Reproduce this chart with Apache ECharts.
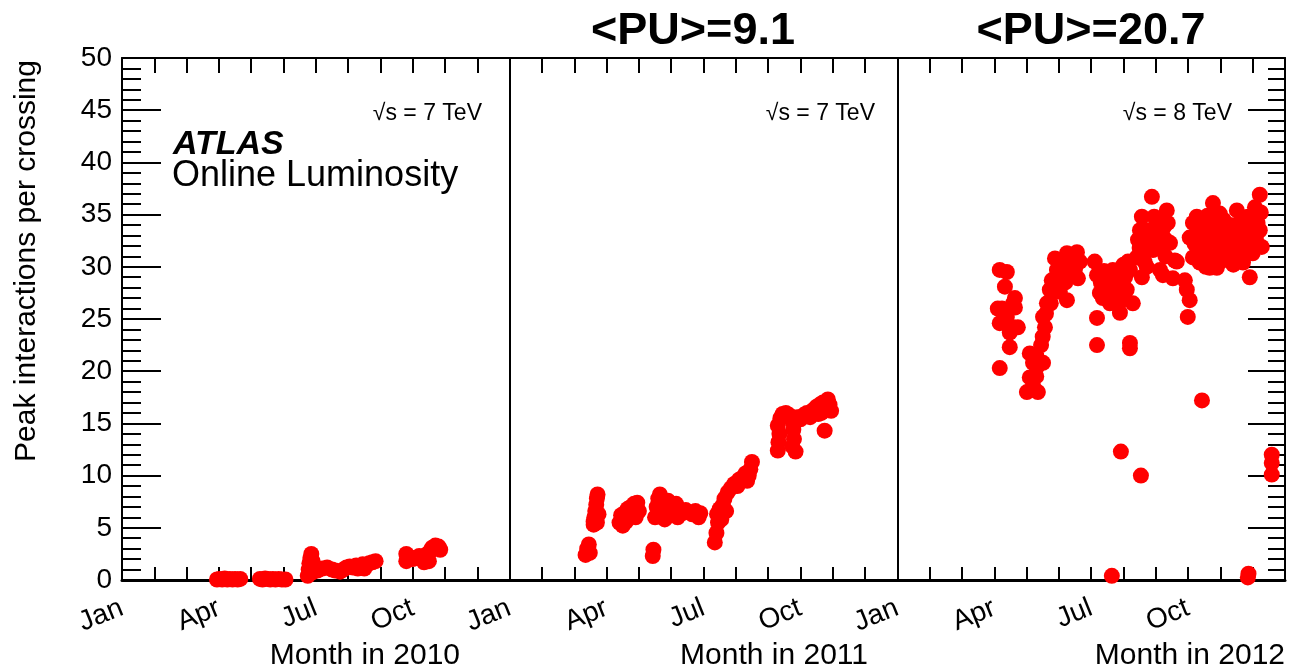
<!DOCTYPE html>
<html>
<head>
<meta charset="utf-8">
<script src="https://cdn.jsdelivr.net/npm/echarts@6/dist/echarts.min.js"></script>
<style>
html,body{margin:0;padding:0;background:#fff;}
#chart{width:1291px;height:672px;}
</style>
</head>
<body>
<div id="chart"></div>
<script>
// x = months since Jan 2010 (0..36), y = peak interactions per crossing
const monthNames = ['Jan', 'Apr', 'Jul', 'Oct'];
const yearTitles = ['Month in 2010', 'Month in 2011', 'Month in 2012'];
const energyLabels = ['7 TeV', '7 TeV', '8 TeV'];
const puLabels = ['<PU>=9.1', '<PU>=20.7'];
const yTicks = [0, 5, 10, 15, 20, 25, 30, 35, 40, 45, 50];

const d2010 = [
  [2.94,0.05],[3.02,0.1],[3.1,0.05],[3.18,0.15],[3.26,0.05],[3.34,0.1],[3.42,0.05],[3.5,0.1],[3.58,0.05],[3.66,0.1],
  [4.27,0.1],[4.35,0.05],[4.43,0.15],[4.51,0.1],[4.59,0.05],[4.67,0.1],[4.75,0.05],[4.85,0.1],[4.95,0.05],[5.06,0.05],
  [5.75,0.4],[5.78,1.0],[5.8,1.6],[5.83,2.1],[5.86,2.5],[5.9,1.8],[5.92,1.2],[5.88,0.7],
  [6.05,0.9],[6.2,1.1],[6.35,1.2],[6.5,1.0],[6.6,0.9],[6.75,0.8],[6.85,1.0],[6.95,1.2],[7.05,1.3],[7.15,1.2],
  [7.25,1.4],[7.35,1.3],[7.45,1.5],[7.55,1.4],[7.65,1.6],[7.75,1.7],[7.85,1.8],[7.3,1.1],[7.5,1.1],
  [8.8,1.8],[8.8,2.5],[8.9,2.2],[9.0,2.0],[9.1,2.1],[9.2,2.3],[9.3,2.0],[9.35,1.7],[9.45,2.5],[9.55,2.8],
  [9.6,3.1],[9.7,3.3],[9.8,3.2],[9.85,2.9],[9.5,1.8]
];

const d2011 = [
  [14.35,2.4],[14.4,3.0],[14.45,3.4],[14.48,2.6],[14.6,5.3],[14.62,6.0],[14.65,6.6],[14.68,7.2],[14.7,7.8],[14.72,8.2],[14.75,6.3],[14.6,5.6],[14.7,5.5],
  [15.4,5.5],[15.45,6.2],[15.5,5.2],[15.55,6.4],[15.6,5.6],[15.65,6.8],[15.7,6.0],[15.75,7.0],[15.8,6.5],[15.85,7.3],[15.9,6.8],[15.95,7.4],[16.0,6.6],[15.9,6.0],
  [16.43,2.3],[16.45,2.9],
  [16.5,6.0],[16.55,7.0],[16.6,7.8],[16.65,8.2],[16.7,7.5],[16.75,6.5],[16.8,5.8],[16.85,7.0],[16.9,7.6],[17.0,7.2],[17.1,6.5],[17.15,7.3],
  [17.25,6.8],[17.35,6.4],[17.45,6.7],[17.55,6.5],[17.65,6.3],[17.75,6.6],[17.85,6.0],[17.9,6.4],[17.2,6.0],[16.95,6.2],
  [18.35,3.6],[18.4,4.5],[18.45,5.5],[18.42,6.3],[18.5,6.8],[18.55,5.8],[18.6,7.2],[18.65,7.8],[18.7,6.6],[18.75,8.4],
  [18.85,8.8],[18.95,9.2],[19.05,9.0],[19.1,9.6],[19.2,9.8],[19.3,10.2],[19.35,9.5],[19.45,10.6],[19.5,11.3],[19.4,10.0],
  [20.3,12.4],[20.32,13.2],[20.35,14.0],[20.3,14.8],[20.38,15.5],[20.45,15.9],[20.55,16.0],[20.65,15.8],[20.75,15.2],[20.78,14.4],
  [20.8,13.5],[20.75,12.8],[20.85,12.3],[20.9,15.6],[21.0,15.4],[21.1,15.8],[21.2,16.0],[21.3,15.6],[21.4,16.3],[21.5,16.6],
  [21.55,15.9],[21.6,16.8],[21.7,17.0],[21.75,14.3],[21.8,16.5],[21.85,17.3],[21.9,16.8],[21.95,16.2],[21.65,16.0]
];

const d2012 = [
  [27.17,29.7],[27.39,29.5],[27.33,28.1],[27.64,27.0],[27.58,26.5],[27.11,26.0],[27.24,26.0],[27.39,25.2],[27.17,24.6],[27.58,24.2],
  [27.73,24.2],[27.48,23.7],[27.48,22.3],[27.17,20.3],[27.64,26.1],
  [28.01,18.0],[28.35,18.0],[28.2,18.6],[28.1,19.4],[28.3,19.5],[28.32,20.4],[28.51,20.8],[28.2,20.8],[28.3,21.5],[28.1,21.7],
  [28.45,22.5],[28.5,23.3],[28.57,24.2],[28.51,25.2],[28.6,25.5],[28.63,26.5],[28.75,26.5],[28.72,27.8],[28.78,28.7],[28.85,28.5],
  [28.94,29.7],[29.0,29.0],[28.88,30.8],[29.1,30.5],[29.15,29.8],[29.25,31.3],[29.35,30.8],[29.45,31.0],[29.56,31.4],[29.65,30.5],
  [29.4,30.0],[29.59,28.9],[29.2,28.5],[29.03,27.6],[29.25,26.8],[29.3,29.5],[29.5,29.8],[28.95,28.2],
  [30.11,30.5],[30.18,29.2],[30.67,29.7],[30.27,27.5],[30.36,27.0],[30.58,26.5],[30.89,25.6],[31.1,27.8],[31.29,26.5],[30.98,28.7],
  [31.2,29.7],[31.14,30.5],[30.18,25.1],[30.18,22.5],[31.2,22.2],[31.2,22.7],[30.3,28.5],[30.45,27.8],[30.5,28.8],[30.75,27.5],
  [30.8,28.2],[30.95,26.8],[31.05,29.0],[30.6,29.0],[30.4,29.6],[30.85,29.3],[31.0,30.2],
  [31.51,33.5],[31.57,34.8],[31.88,36.7],[31.72,31.9],[31.41,30.9],[31.72,30.0],[31.57,29.0],[32.03,34.2],[32.22,32.9],[32.34,35.4],
  [32.37,34.2],[32.13,29.7],[32.22,29.2],[32.53,28.9],[32.65,30.5],[32.59,30.6],[32.9,28.7],[32.96,27.8],[33.05,26.8],[32.99,25.2],
  [31.91,31.6],[32.13,31.9],[32.44,32.3],[31.6,32.5],[31.75,33.5],[31.85,33.0],[31.95,34.8],[32.05,32.0],[32.25,33.8],[31.5,31.8],
  [31.65,30.5],[32.3,31.0],[31.8,32.2],[32.0,33.2],[32.15,34.5],[32.3,32.6],[31.45,32.6],
  [33.15,34.2],[33.27,34.8],[33.05,32.8],[33.15,30.9],[33.36,30.4],[33.67,29.9],[33.89,29.9],[33.77,36.1],[33.98,35.1],[34.08,33.5],
  [34.2,31.9],[34.51,35.4],[34.6,34.2],[34.7,30.4],[34.91,29.0],[35.07,35.7],[35.22,36.9],[35.22,33.5],[35.28,31.9],[35.0,31.3],
  [33.58,32.6],[33.77,33.2],[34.39,32.6],[33.52,31.6],[34.29,30.9],[33.98,31.9],[33.3,33.3],[33.4,32.0],[33.45,34.0],[33.6,34.9],
  [33.7,31.0],[33.85,32.5],[34.0,30.5],[34.1,34.5],[34.3,34.0],[34.45,33.2],[34.55,31.5],[34.7,32.8],[34.8,33.8],[34.9,32.0],
  [35.1,32.6],[35.15,34.2],[33.3,30.8],[34.4,30.2],[33.55,30.0],[33.2,32.2],[33.5,33.0],[33.9,34.2],[34.15,32.8],[34.35,31.5],
  [34.6,33.4],[34.85,34.8],[35.0,33.0],[35.25,35.2],[33.65,33.8],
  [33.43,17.2],[30.92,12.3],[31.54,10.0],[30.64,0.4],[34.85,0.25],[34.87,0.6],[35.59,12.0],[35.59,11.2],[35.59,10.1]
];

const FONT = '"Liberation Sans", Arial, Helvetica, sans-serif';
const chart = echarts.init(document.getElementById('chart'), null, {renderer: 'canvas'});

const dotStyle = {color: '#ff0000', opacity: 1};
function scatter(data, withLines) {
  const s = {
    type: 'scatter', data: data, symbol: 'circle', symbolSize: 16,
    itemStyle: dotStyle, xAxisIndex: 0, yAxisIndex: 0, z: 3, silent: true
  };
  if (withLines) {
    s.markLine = {
      silent: true, symbol: 'none', label: {show: false},
      lineStyle: {color: '#000', width: 2, type: 'solid'},
      data: [{xAxis: 12}, {xAxis: 24}]
    };
  }
  return s;
}

const axisLine = {show: true, onZero: false, lineStyle: {color: '#000', width: 2}};
const tickLine = {color: '#000', width: 2};

const option = {
  animation: false,
  backgroundColor: '#fff',
  grid: {left: 122, right: 6, top: 58, bottom: 92, containLabel: false},
  xAxis: [
    {
      type: 'value', position: 'bottom', min: 0, max: 36, interval: 1,
      axisLine: {show: true, onZero: false, lineStyle: {color: '#000', width: 3}},
      axisTick: {show: true, inside: true, length: 13, lineStyle: tickLine},
      splitLine: {show: false},
      axisLabel: {
        show: true, rotate: 22, margin: 27, fontSize: 28, color: '#000', fontFamily: FONT,
        showMaxLabel: false,
        formatter: function (v) {
          if (v % 3 === 0 && v < 36) return monthNames[(v % 12) / 3];
          return '';
        }
      }
    },
    {
      type: 'value', position: 'top', min: 0, max: 36, interval: 1,
      axisLine: axisLine,
      axisTick: {show: true, inside: true, length: 15, lineStyle: tickLine},
      splitLine: {show: false},
      axisLabel: {show: false}
    }
  ],
  yAxis: [
    {
      type: 'value', position: 'left', min: 0, max: 50, interval: 5,
      axisLine: axisLine,
      axisTick: {show: true, inside: true, length: 39, lineStyle: tickLine},
      minorTick: {show: true, splitNumber: 5, length: 19, lineStyle: tickLine},
      splitLine: {show: false}, minorSplitLine: {show: false},
      axisLabel: {
        show: true, margin: 10, fontSize: 28, color: '#000', fontFamily: FONT,
        formatter: function (v) { return yTicks.indexOf(v) >= 0 ? String(v) : ''; }
      }
    },
    {
      type: 'value', position: 'right', min: 0, max: 50, interval: 5,
      axisLine: axisLine,
      axisTick: {show: true, inside: true, length: 37, lineStyle: tickLine},
      minorTick: {show: true, splitNumber: 5, length: 17, lineStyle: tickLine},
      splitLine: {show: false}, minorSplitLine: {show: false},
      axisLabel: {show: false}
    }
  ],
  series: [scatter(d2010, true), scatter(d2011, false), scatter(d2012, false)],
  graphic: [
    {type: 'text', left: 173, top: 128, style: {text: 'ATLAS', font: 'italic bold 34px ' + FONT, fill: '#000'}},
    {type: 'text', left: 172, top: 158, style: {text: 'Online Luminosity', font: '36px ' + FONT, fill: '#000'}},
    {type: 'text', x: 27, y: 261, rotation: Math.PI / 2,
      style: {text: 'Peak interactions per crossing', font: '30px ' + FONT, fill: '#000', align: 'center', verticalAlign: 'middle'}},
    {type: 'text', x: 460, y: 656, style: {text: yearTitles[0], font: '30px ' + FONT, fill: '#000', align: 'right', verticalAlign: 'middle'}},
    {type: 'text', x: 868, y: 656, style: {text: yearTitles[1], font: '30px ' + FONT, fill: '#000', align: 'right', verticalAlign: 'middle'}},
    {type: 'text', x: 1285, y: 656, style: {text: yearTitles[2], font: '30px ' + FONT, fill: '#000', align: 'right', verticalAlign: 'middle'}},
    {type: 'text', x: 693, y: 32, style: {text: puLabels[0], font: 'bold 45px ' + FONT, fill: '#000', align: 'center', verticalAlign: 'middle'}},
    {type: 'text', x: 1091, y: 32, style: {text: puLabels[1], font: 'bold 45px ' + FONT, fill: '#000', align: 'center', verticalAlign: 'middle'}},
    {type: 'text', x: 482, y: 114, style: {text: '\u221As = ' + energyLabels[0], font: '23px ' + FONT, fill: '#000', align: 'right', verticalAlign: 'middle'}},
    {type: 'text', x: 875, y: 114, style: {text: '\u221As = ' + energyLabels[1], font: '23px ' + FONT, fill: '#000', align: 'right', verticalAlign: 'middle'}},
    {type: 'text', x: 1232, y: 114, style: {text: '\u221As = ' + energyLabels[2], font: '23px ' + FONT, fill: '#000', align: 'right', verticalAlign: 'middle'}}
  ]
};
chart.setOption(option);
</script>
</body>
</html>
